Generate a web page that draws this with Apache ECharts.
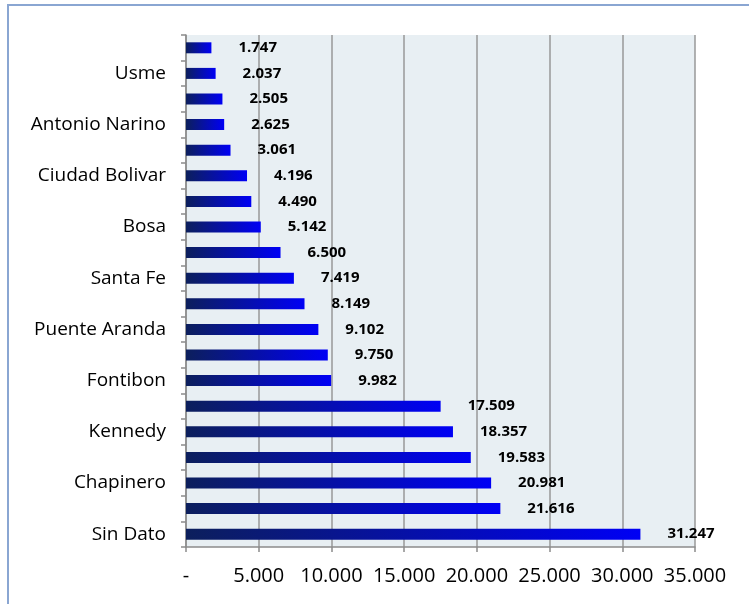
<!DOCTYPE html>
<html>
<head>
<meta charset="utf-8">
<script src="https://cdn.jsdelivr.net/npm/echarts@6/dist/echarts.min.js"></script>
<style>
  html, body { margin: 0; padding: 0; background: #fff; }
  #chart { width: 749px; height: 604px; }
</style>
</head>
<body>
<div id="chart"></div>
<script>
// localidades, top to bottom as drawn
const categories = [
  'Candelaria', 'Usme', 'Martires', 'Antonio Narino', 'Tunjuelito',
  'Ciudad Bolivar', 'San Cristobal', 'Bosa', 'Rafael Uribe', 'Santa Fe',
  'Barrios Unidos', 'Puente Aranda', 'Teusaquillo', 'Fontibon', 'Engativa',
  'Kennedy', 'Suba', 'Chapinero', 'Usaquen', 'Sin Dato'
]
const values = [
  1747, 2037, 2505, 2625, 3061,
  4196, 4490, 5142, 6500, 7419,
  8149, 9102, 9750, 9982, 17509,
  18357, 19583, 20981, 21616, 31247
]
const xTicks = [0, 5000, 10000, 15000, 20000, 25000, 30000, 35000]

const fmt = (v) => v === 0 ? '-' : v.toString().replace(/\B(?=(\d{3})+(?!\d))/g, '.')

const myChart = echarts.init(document.getElementById('chart'))
myChart.setOption({
  animation: false,
  textStyle: { fontFamily: 'Open Sans' },
  graphic: [
    {
      type: 'rect',
      shape: { x: 8, y: 5, width: 900, height: 800 },
      style: { fill: 'none', stroke: '#8aa6d2', lineWidth: 2 }
    }
  ],
  grid: {
    left: 186,
    right: 54,
    top: 35,
    bottom: 57,
    show: true,
    backgroundColor: '#e8eff3',
    borderWidth: 0
  },
  xAxis: {
    type: 'value',
    min: xTicks[0],
    max: xTicks[xTicks.length - 1],
    interval: 5000,
    axisLine: { show: true, lineStyle: { color: '#8c8c8c', width: 1.5 } },
    axisTick: { show: true, length: 5, lineStyle: { color: '#8c8c8c', width: 1.5 } },
    splitLine: { show: true, lineStyle: { color: '#999999', width: 1.5 } },
    axisLabel: {
      margin: 19,
      fontSize: 20,
      color: '#000',
      formatter: fmt
    }
  },
  yAxis: {
    type: 'category',
    inverse: true,
    data: categories,
    axisLine: { show: true, lineStyle: { color: '#8c8c8c', width: 1.5 } },
    axisTick: { show: true, length: 5, interval: 0, lineStyle: { color: '#8c8c8c', width: 1.5 } },
    axisLabel: {
      interval: (i) => i % 2 === 1,
      margin: 20,
      fontSize: 19,
      color: '#000'
    }
  },
  series: [
    {
      type: 'bar',
      data: values,
      barWidth: 11,
      itemStyle: {
        color: new echarts.graphic.LinearGradient(0, 0, 1, 0, [
          { offset: 0, color: '#0c1f5c' },
          { offset: 1, color: '#0000f5' }
        ])
      },
      label: {
        show: true,
        position: 'right',
        distance: 27,
        fontSize: 15,
        fontWeight: 'bold',
        color: '#000',
        formatter: (p) => fmt(p.value)
      }
    }
  ]
})
</script>
</body>
</html>
